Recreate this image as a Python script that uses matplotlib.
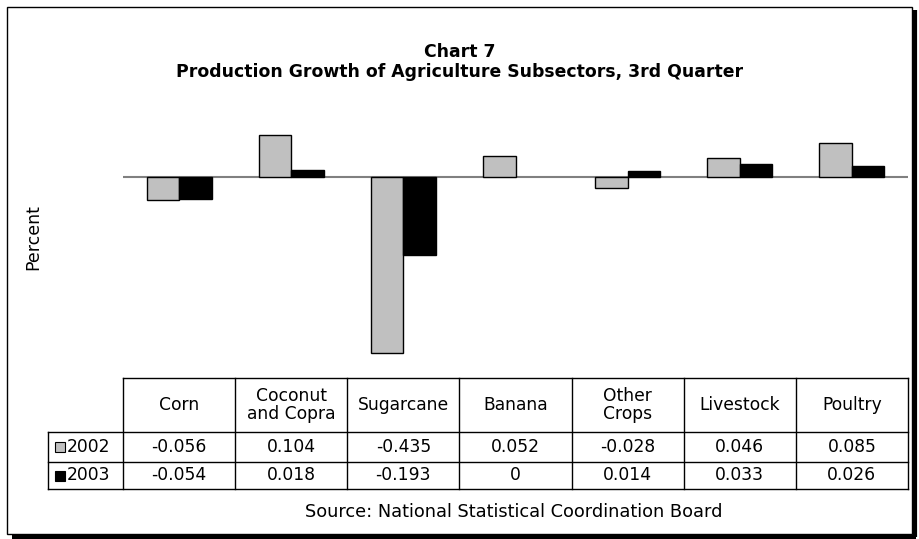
import matplotlib
matplotlib.use("Agg")
import matplotlib.pyplot as plt
import numpy as np
from matplotlib.patches import Rectangle

categories = ["Corn", "Coconut\nand Copra", "Sugarcane", "Banana", "Other\nCrops", "Livestock", "Poultry"]
series_names = ["2002", "2003"]
values_2002 = [-0.056, 0.104, -0.435, 0.052, -0.028, 0.046, 0.085]
values_2003 = [-0.054, 0.018, -0.193, 0, 0.014, 0.033, 0.026]
labels_2002 = ["-0.056", "0.104", "-0.435", "0.052", "-0.028", "0.046", "0.085"]
labels_2003 = ["-0.054", "0.018", "-0.193", "0", "0.014", "0.033", "0.026"]
colors = ["#C0C0C0", "#000000"]
title = "Chart 7\nProduction Growth of Agriculture Subsectors, 3rd Quarter"
source = "Source: National Statistical Coordination Board"

W, H = 919, 539
plt.rcParams['font.family'] = ['DejaVu Sans']
fig = plt.figure(figsize=(W / 100, H / 100), dpi=100)

# overlay axes in pixel coordinates
ov = fig.add_axes([0, 0, 1, 1])
ov.set_xlim(0, W)
ov.set_ylim(H, 0)
ov.axis("off")

# plot axes
left, right = 123, 908
top, bottom = 110, 378
zero_y = 177
scale = 404.0
ax = fig.add_axes([left / W, 1 - bottom / H, (right - left) / W, (bottom - top) / H])
ax.set_ylim(-(bottom - zero_y) / scale, (zero_y - top) / scale)
n = len(categories)
ax.set_xlim(-0.5, n - 0.5)
ax.axis("off")
x = np.arange(n)
bw = 0.29
ax.axhline(0, color="#808080", lw=1.5, zorder=1)
ax.bar(x - bw / 2, values_2002, bw, color=colors[0], edgecolor="#000000", linewidth=1, zorder=2)
v3 = np.array(values_2003, dtype=float)
ax.bar(x + bw / 2, v3, bw, color=colors[1], edgecolor="#000000",
       linewidth=[0 if v == 0 else 1 for v in v3], zorder=2)

# title
ov.text(460, 62, title, ha="center", va="center", fontsize=12.4, fontweight="bold", linespacing=1.2)
ov.text(33, 237, "Percent", rotation=90, ha="center", va="center", fontsize=12.5)

# table
col_w = (right - left) / n
t_top, t_h, t_r1, t_r2 = 378, 432, 462, 489
lc = "#000000"
ov.plot([left, right], [t_top, t_top], color=lc, lw=1)
for yy in (t_h, t_r1, t_r2):
    ov.plot([48, right], [yy, yy], color=lc, lw=1)
for k in range(n + 1):
    ov.plot([left + k * col_w] * 2, [t_top, t_r2], color=lc, lw=1)
ov.plot([48, 48], [t_h, t_r2], color=lc, lw=1)

fs = 12.3
for i, c in enumerate(categories):
    cx = left + (i + 0.5) * col_w
    ov.text(cx, (t_top + t_h) / 2, c, ha="center", va="center", fontsize=fs, linespacing=1.0)
    ov.text(cx, (t_h + t_r1) / 2, labels_2002[i], ha="center", va="center", fontsize=fs)
    ov.text(cx, (t_r1 + t_r2) / 2, labels_2003[i], ha="center", va="center", fontsize=fs)

for j, (name, col) in enumerate(zip(series_names, colors)):
    cy = (t_h + t_r1) / 2 if j == 0 else (t_r1 + t_r2) / 2
    ov.add_patch(Rectangle((55, cy - 5), 10, 10, facecolor=col, edgecolor="#000000", lw=0.8))
    ov.text(67, cy, name, ha="left", va="center", fontsize=fs)

ov.text(514, 512, source, ha="center", va="center", fontsize=12.8)

# frame with shadow
ov.add_patch(Rectangle((7, 7), 905, 527, facecolor="none", edgecolor="#000000", lw=1))
ov.plot([914.5, 914.5], [10, 537], color="#000000", lw=3, solid_capstyle="butt")
ov.plot([12, 916], [536.5, 536.5], color="#000000", lw=3, solid_capstyle="butt")

fig.savefig("out.png", dpi=100)
